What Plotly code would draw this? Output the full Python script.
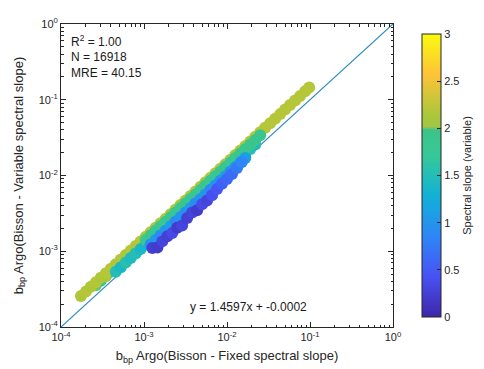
import plotly.graph_objects as go

# ---- data ----
# lower-left greenish edge of the main band
g_low_x = [2.63e-4, 3.02e-4, 3.47e-4, 3.98e-4, 4.57e-4, 5.25e-4, 6.03e-4, 6.92e-4, 7.94e-4, 9.12e-4]
g_low_y = [3.55e-4, 4.07e-4, 4.68e-4, 5.37e-4, 6.17e-4, 7.08e-4, 8.13e-4, 9.33e-4, 1.07e-3, 1.23e-3]
g_low_s = [2.0, 1.95, 2.05, 1.9, 2.0, 1.95, 1.9, 2.0, 1.85, 1.9]

# main yellow-green band
yb_x = [1.74e-4, 2.00e-4, 2.29e-4, 2.63e-4, 3.02e-4, 3.47e-4, 3.98e-4, 4.57e-4, 5.25e-4, 6.03e-4,
        6.92e-4, 7.94e-4, 9.12e-4, 1.05e-3, 1.20e-3, 1.38e-3, 1.58e-3, 1.82e-3, 2.09e-3, 2.40e-3,
        2.75e-3, 3.16e-3, 3.63e-3, 4.17e-3, 4.79e-3, 5.50e-3, 6.31e-3, 7.24e-3, 8.32e-3, 9.55e-3,
        1.10e-2, 1.26e-2, 1.45e-2, 1.66e-2, 1.91e-2, 2.19e-2, 2.51e-2, 2.88e-2, 3.31e-2, 3.80e-2,
        4.37e-2, 5.01e-2, 5.75e-2, 6.61e-2, 7.59e-2, 8.71e-2, 9.77e-2]
yb_y = [2.57e-4, 2.95e-4, 3.39e-4, 3.89e-4, 4.47e-4, 5.13e-4, 5.89e-4, 6.76e-4, 7.76e-4, 8.91e-4,
        1.02e-3, 1.17e-3, 1.35e-3, 1.55e-3, 1.78e-3, 2.04e-3, 2.34e-3, 2.69e-3, 3.09e-3, 3.55e-3,
        4.07e-3, 4.68e-3, 5.37e-3, 6.17e-3, 7.08e-3, 8.13e-3, 9.33e-3, 1.07e-2, 1.23e-2, 1.41e-2,
        1.62e-2, 1.86e-2, 2.14e-2, 2.45e-2, 2.82e-2, 3.24e-2, 3.72e-2, 4.27e-2, 4.90e-2, 5.62e-2,
        6.46e-2, 7.41e-2, 8.51e-2, 9.77e-2, 0.112, 0.129, 0.145]
yb_s = [2.15, 2.2, 2.15, 2.2, 2.15, 2.2, 2.2, 2.15, 2.2, 2.15,
        2.2, 2.15, 2.2, 2.15, 2.2, 2.15, 2.2, 2.2, 2.15, 2.2,
        2.15, 2.2, 2.15, 2.2, 2.2, 2.15, 2.2, 2.15, 2.2, 2.15,
        2.2, 2.15, 2.2, 2.2, 2.15, 2.2, 2.2, 2.2, 2.2, 2.2,
        2.2, 2.2, 2.2, 2.2, 2.2, 2.2, 2.2]

# cyan points
cy_x = [4.57e-4, 5.25e-4, 6.03e-4, 6.92e-4, 7.94e-4, 9.12e-4, 1.05e-3, 1.20e-3, 1.38e-3, 1.58e-3,
        1.82e-3, 2.09e-3, 2.40e-3, 2.75e-3, 3.16e-3, 3.63e-3, 4.17e-3, 4.79e-3, 5.50e-3, 6.31e-3,
        7.24e-3, 8.32e-3, 9.55e-3, 1.10e-2, 1.26e-2, 1.45e-2, 1.66e-2, 1.91e-2, 2.19e-2]
cy_y = [5.37e-4, 6.17e-4, 7.08e-4, 8.13e-4, 9.33e-4, 1.07e-3, 1.23e-3, 1.41e-3, 1.62e-3, 1.86e-3,
        2.14e-3, 2.45e-3, 2.82e-3, 3.24e-3, 3.72e-3, 4.27e-3, 4.90e-3, 5.62e-3, 6.46e-3, 7.41e-3,
        8.51e-3, 9.77e-3, 1.12e-2, 1.29e-2, 1.48e-2, 1.70e-2, 1.95e-2, 2.24e-2, 2.57e-2]
cy_s = [1.5, 1.4, 1.55, 1.45, 1.5, 1.4, 1.35, 1.5, 1.45, 1.3,
        1.5, 1.4, 1.55, 1.35, 1.45, 1.5, 1.3, 1.45, 1.55, 1.4,
        1.35, 1.5, 1.45, 1.3, 1.5, 1.4, 1.55, 1.5, 1.45]

# green / teal points in the middle of the cloud
gm_x = [1.05e-3, 1.20e-3, 1.38e-3, 1.58e-3, 1.82e-3, 2.09e-3, 2.40e-3, 2.75e-3, 3.16e-3, 3.63e-3,
        4.17e-3, 4.79e-3, 5.50e-3, 6.31e-3, 7.24e-3, 8.32e-3, 9.55e-3, 1.10e-2, 1.26e-2, 1.45e-2,
        1.66e-2, 1.91e-2, 2.19e-2, 2.51e-2]
gm_y = [1.41e-3, 1.62e-3, 1.86e-3, 2.14e-3, 2.45e-3, 2.82e-3, 3.24e-3, 3.72e-3, 4.27e-3, 4.90e-3,
        5.62e-3, 6.46e-3, 7.41e-3, 8.51e-3, 9.77e-3, 1.12e-2, 1.29e-2, 1.48e-2, 1.70e-2, 1.95e-2,
        2.24e-2, 2.57e-2, 2.95e-2, 3.39e-2]
gm_s = [1.8, 1.9, 1.7, 1.85, 1.75, 1.9, 1.7, 1.8, 1.95, 1.7,
        1.85, 1.75, 1.9, 1.8, 1.7, 1.85, 1.9, 1.75, 1.8, 1.9,
        1.85, 1.9, 1.95, 1.9]

# blue points
bl_x = [1.20e-3, 1.38e-3, 1.58e-3, 1.82e-3, 2.09e-3, 2.40e-3, 2.75e-3, 3.16e-3, 3.63e-3, 4.17e-3,
        4.79e-3, 5.50e-3, 6.31e-3, 7.24e-3, 8.32e-3, 9.55e-3, 1.10e-2, 1.26e-2, 1.45e-2, 1.66e-2]
bl_y = [1.23e-3, 1.41e-3, 1.62e-3, 1.86e-3, 2.14e-3, 2.45e-3, 2.82e-3, 3.24e-3, 3.72e-3, 4.27e-3,
        4.90e-3, 5.62e-3, 6.46e-3, 7.41e-3, 8.51e-3, 9.77e-3, 1.12e-2, 1.29e-2, 1.48e-2, 1.70e-2]
bl_s = [0.95, 1.05, 0.9, 1.0, 1.1, 0.85, 1.0, 0.95, 1.1, 0.9,
        1.0, 1.05, 0.85, 1.0, 0.95, 1.1, 0.9, 1.0, 1.05, 1.1]

# purple points along the lower edge
pu_x = [1.26e-3, 1.45e-3, 1.66e-3, 1.91e-3, 2.19e-3, 2.51e-3, 2.88e-3, 3.31e-3, 3.80e-3, 4.37e-3,
        5.01e-3, 5.75e-3, 6.61e-3, 7.59e-3, 8.71e-3, 1.00e-2, 1.15e-2, 1.32e-2, 1.51e-2]
pu_y = [1.10e-3, 1.12e-3, 1.35e-3, 1.58e-3, 1.74e-3, 2.04e-3, 2.19e-3, 2.75e-3, 3.24e-3, 3.47e-3,
        4.17e-3, 4.68e-3, 5.50e-3, 6.61e-3, 7.76e-3, 9.02e-3, 1.05e-2, 1.26e-2, 1.51e-2]
pu_s = [0.25, 0.2, 0.3, 0.25, 0.35, 0.2, 0.3, 0.25, 0.3, 0.2,
        0.35, 0.3, 0.4, 0.45, 0.55, 0.6, 0.65, 0.75, 0.85]

one_to_one = [1e-4, 1.0]

x_ticks = [1e-4, 1e-3, 1e-2, 1e-1, 1.0]
tick_text = ["10<sup>-4</sup>", "10<sup>-3</sup>", "10<sup>-2</sup>", "10<sup>-1</sup>", "10<sup>0</sup>"]
cbar_ticks = [0, 0.5, 1, 1.5, 2, 2.5, 3]
cbar_text = ["0", "0.5", "1", "1.5", "2", "2.5", "3"]

x_all = g_low_x + yb_x + cy_x + gm_x + bl_x + pu_x
y_all = g_low_y + yb_y + cy_y + gm_y + bl_y + pu_y
s_all = g_low_s + yb_s + cy_s + gm_s + bl_s + pu_s

parula = [
    [0.0, "#3e26a8"],
    [0.143, "#4852f4"],
    [0.286, "#2d87f7"],
    [0.429, "#11b1d6"],
    [0.571, "#37c897"],
    [0.662, "#3cc488"],
    [0.672, "#a3c544"],
    [0.714, "#abc739"],
    [0.857, "#fec338"],
    [1.0, "#f9fb0e"],
]

FONT = "Liberation Sans, Arial, sans-serif"
AX = "#262626"

fig = go.Figure()
fig.add_trace(go.Scatter(
    x=one_to_one, y=one_to_one, mode="lines",
    line=dict(color="#2b8cbe", width=1.2), showlegend=False, hoverinfo="skip"))
fig.add_trace(go.Scatter(
    x=x_all, y=y_all, mode="markers", showlegend=False,
    marker=dict(size=12, color=s_all, colorscale=parula, cmin=0, cmax=3,
                line=dict(width=0), opacity=1,
                colorbar=dict(
                    x=1.057, xanchor="left", xref="paper", y=0.5, yanchor="middle",
                    len=1.0, lenmode="fraction", thickness=19, thicknessmode="pixels",
                    outlinecolor=AX, outlinewidth=1,
                    tickmode="array", tickvals=cbar_ticks, ticktext=cbar_text,
                    ticks="inside", ticklen=4, tickcolor=AX,
                    tickfont=dict(family=FONT, size=11, color=AX),
                    title=dict(text="Spectral slope (variable)", side="right",
                               font=dict(family=FONT, size=11, color=AX)),
                ))))

axis_common = dict(
    type="log", range=[-4, 0], showgrid=False, zeroline=False,
    showline=True, linecolor=AX, linewidth=1, mirror="ticks",
    ticks="inside", ticklen=5, tickcolor=AX,
    tickmode="array", tickvals=x_ticks, ticktext=tick_text,
    tickfont=dict(family=FONT, size=11, color=AX),
    minor=dict(ticks="inside", ticklen=2.5, tickcolor=AX, dtick="D1", showgrid=False),
)
fig.update_xaxes(**axis_common,
                 title=dict(text="b<sub>bp</sub> Argo(Bisson - Fixed spectral slope)",
                            font=dict(family=FONT, size=13, color=AX), standoff=8))
fig.update_yaxes(**axis_common,
                 title=dict(text="b<sub>bp</sub> Argo(Bisson - Variable spectral slope)",
                            font=dict(family=FONT, size=13, color=AX), standoff=12))

ann_font = dict(family=FONT, size=12, color="#1a1a1a")
for txt, yy in [("R<sup>2</sup> = 1.00", 0.945), ("N = 16918", 0.891), ("MRE = 40.15", 0.839)]:
    fig.add_annotation(text=txt, xref="paper", yref="paper", x=0.024, y=yy,
                       xanchor="left", yanchor="middle", showarrow=False, font=ann_font)
fig.add_annotation(text="y = 1.4597x + -0.0002", xref="paper", yref="paper", x=0.564, y=0.0675,
                   xanchor="center", yanchor="middle", showarrow=False, font=ann_font)

fig.update_layout(
    width=484, height=369, margin=dict(l=53, r=80, t=8, b=50),
    paper_bgcolor="white", plot_bgcolor="white", showlegend=False,
    font=dict(family=FONT, color=AX),
)
fig.write_html("out.html")
